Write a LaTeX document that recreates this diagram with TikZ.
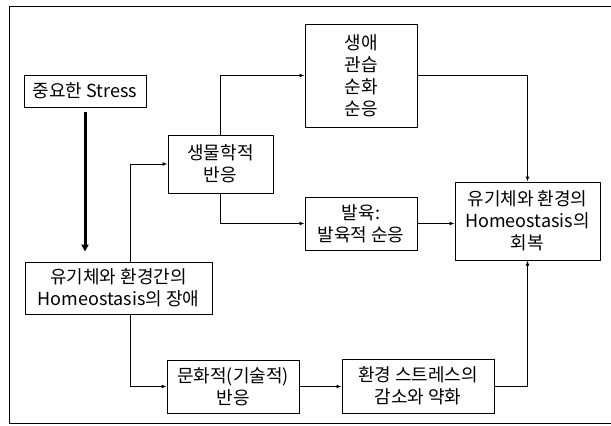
\documentclass[tikz,border=0pt]{standalone}
\usepackage{fontspec}
\setmainfont{Noto Sans CJK KR}
\usetikzlibrary{arrows.meta,calc}
\begin{document}
\begin{tikzpicture}[x=1pt,y=-1pt,
  box/.style={draw, line width=1pt, inner sep=0pt, align=center, font=\fontsize{18}{22}\selectfont},
  conn/.style={line width=1pt, -{Latex[length=5pt,width=4pt]}},
  thickarrow/.style={line width=3pt, -{Triangle[length=7pt,width=7pt]}},
  frame/.style={line width=1pt}]
\useasboundingbox (0,0) rectangle (611,426);
\draw[frame] (611,6) -- (9,6) -- (9,423) -- (611,423);
\node[box, minimum width=122pt, minimum height=32pt] (stress) at (85,91) {중요한 Stress};
\node[box, minimum width=112pt, minimum height=103pt] (life) at (361,75.5) {생애\\관습\\순화\\순응};
\node[box, minimum width=105pt, minimum height=58pt] (bio) at (220.5,164) {생물학적\\반응};
\node[box, minimum width=112pt, minimum height=53pt] (dev) at (361,223.5) {발육:\\발육적 순응};
\node[box, minimum width=145pt, minimum height=78pt] (rec) at (527.5,221) {유기체와 환경의\\Homeostasis의\\회복};
\node[box, minimum width=187pt, minimum height=52pt] (hom) at (118.5,288) {유기체와 환경간의\\Homeostasis의 장애};
\node[box, minimum width=132pt, minimum height=53pt] (cult) at (233,386.5) {문화적(기술적)\\반응};
\node[box, minimum width=152pt, minimum height=54pt] (env) at (418,386) {환경 스트레스의\\감소와 약화};
\coordinate (hj) at (130,0);
\draw[thickarrow, shorten <=4pt, shorten >=10pt] (stress.south) -- (stress.south |- hom.north);
\draw[conn] (hom.north -| hj) |- (bio.west);
\draw[conn] (bio.north) |- (life.west);
\draw[conn] (life.east) -| (rec.north);
\draw[conn] (bio.south) |- (dev.west);
\draw[conn] (dev.east) -- (dev.east -| rec.west);
\draw[conn] (hom.south -| hj) |- (cult.west);
\draw[conn] (cult.east) -- (cult.east -| env.west);
\draw[conn] (env.east) -| (rec.south);
\end{tikzpicture}
\end{document}
